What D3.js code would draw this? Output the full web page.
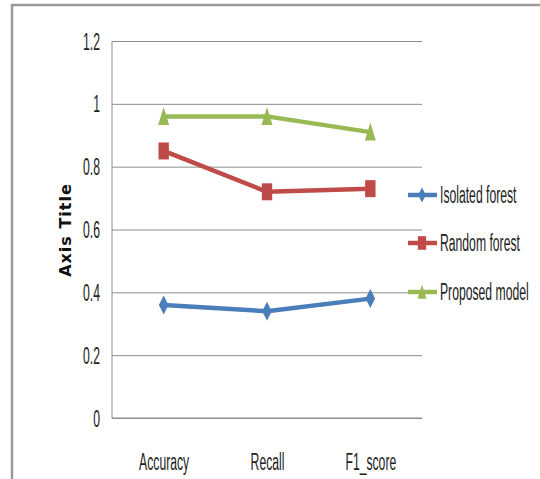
<!DOCTYPE html>
<html>
<head>
<meta charset="utf-8">
<script src="https://cdn.jsdelivr.net/npm/d3@7"></script>
<style>
  html, body { margin: 0; padding: 0; background: #fff; }
  svg { display: block; }
</style>
</head>
<body>
<svg id="chart" width="540" height="479"></svg>
<script>
// Metric names along the x axis
const categories = ["Accuracy", "Recall", "F1_score"];

// Scores per model
const isolatedForest = [0.36, 0.34, 0.38];
const randomForest   = [0.85, 0.72, 0.73];
const proposedModel  = [0.96, 0.96, 0.91];

const seriesNames = ["Isolated forest", "Random forest", "Proposed model"];
const yTicks = [0, 0.2, 0.4, 0.6, 0.8, 1, 1.2];
const yTitle = "Axis Title";

const series = [
  { name: seriesNames[0], values: isolatedForest, color: "#4a7ebb", shape: "diamond" },
  { name: seriesNames[1], values: randomForest,   color: "#be4b48", shape: "square" },
  { name: seriesNames[2], values: proposedModel,  color: "#98b954", shape: "triangle" }
];

const svg = d3.select("#chart");
const plot = { left: 112, right: 422, top: 41, bottom: 418 };
const squeeze = 0.53;           // condensed look of the label font
const labelFont = "'Liberation Sans', Arial, sans-serif";

const x = d3.scalePoint().domain(categories).range([plot.left, plot.right]).padding(0.5);
const y = d3.scaleLinear().domain([0, 1.2]).range([plot.bottom, plot.top]);

// outer frame (left and top edges)
svg.append("path")
  .attr("d", "M12,479 V5 H540")
  .attr("fill", "none")
  .attr("stroke", "#9a9a9a")
  .attr("stroke-width", 2.5);

// y axis with full-width gridlines
const yAxis = svg.append("g")
  .attr("transform", `translate(${plot.left},0)`)
  .call(d3.axisLeft(y).tickValues(yTicks).tickFormat(d3.format("~g"))
    .tickSize(-(plot.right - plot.left)).tickPadding(0));
yAxis.select(".domain").attr("stroke", "#8c8c8c").attr("d", `M0,${plot.top}V${plot.bottom}`);
yAxis.selectAll(".tick line").attr("stroke", "#8c8c8c").attr("stroke-width", 1);
yAxis.selectAll(".tick text")
  .attr("x", null).attr("dy", null)
  .attr("dominant-baseline", "central")
  .attr("transform", `translate(-12,0) scale(${squeeze},1)`)
  .attr("text-anchor", "end")
  .attr("fill", "#222")
  .style("font-family", labelFont)
  .style("font-size", "23px");

// x axis baseline and category labels
const xAxis = svg.append("g")
  .attr("transform", `translate(0,${plot.bottom})`)
  .call(d3.axisBottom(x).tickSize(0).tickPadding(0));
xAxis.select(".domain").attr("stroke", "#8c8c8c").attr("d", `M${plot.left},0H${plot.right}`);
xAxis.selectAll(".tick text")
  .attr("y", null).attr("dy", null)
  .attr("dominant-baseline", "central")
  .attr("transform", `translate(0,44) scale(${squeeze},1)`)
  .attr("text-anchor", "middle")
  .attr("fill", "#222")
  .style("font-family", labelFont)
  .style("font-size", "23px");

// y axis title
svg.append("text")
  .attr("transform", "translate(65,230) rotate(-90)")
  .attr("text-anchor", "middle")
  .attr("dominant-baseline", "central")
  .style("font-family", "'DejaVu Sans', sans-serif")
  .style("font-weight", "bold")
  .style("font-size", "16px")
  .style("letter-spacing", "1px")
  .attr("fill", "#111")
  .text(yTitle);

// marker outlines
function markerPath(shape, k) {
  if (shape === "diamond") return `M0,${-9.5*k}L${4.8*k},0L0,${9.5*k}L${-4.8*k},0Z`;
  if (shape === "square") return `M${-5.2*k},${-8.5*k}H${5.2*k}V${8.5*k}H${-5.2*k}Z`;
  return `M0,${-9.5*k}L${5.5*k},${8.5*k}H${-5.5*k}Z`;
}

const line = d3.line().x((d, i) => x(categories[i])).y(d => y(d));

series.forEach(s => {
  const g = svg.append("g");
  g.append("path")
    .datum(s.values)
    .attr("d", line)
    .attr("fill", "none")
    .attr("stroke", s.color)
    .attr("stroke-width", 4.5)
    .attr("stroke-linejoin", "round");
  g.selectAll("path.mk")
    .data(s.values)
    .join("path")
    .attr("class", "mk")
    .attr("transform", (d, i) => `translate(${x(categories[i])},${y(d)})`)
    .attr("d", markerPath(s.shape, 1))
    .attr("fill", s.color);
});

// legend
const legendY = [195, 243, 292];
const legend = svg.append("g");
series.forEach((s, i) => {
  const g = legend.append("g").attr("transform", `translate(0,${legendY[i]})`);
  g.append("line")
    .attr("x1", 408).attr("x2", 437).attr("y1", 0).attr("y2", 0)
    .attr("stroke", s.color).attr("stroke-width", 4.5);
  g.append("path")
    .attr("transform", "translate(422,0)")
    .attr("d", markerPath(s.shape, 0.8))
    .attr("fill", s.color);
  g.append("text")
    .attr("transform", `translate(440,0) scale(${squeeze},1)`)
    .attr("dominant-baseline", "central")
    .style("font-family", labelFont)
    .style("font-size", "23px")
    .attr("fill", "#222")
    .text(s.name);
});
</script>
</body>
</html>
